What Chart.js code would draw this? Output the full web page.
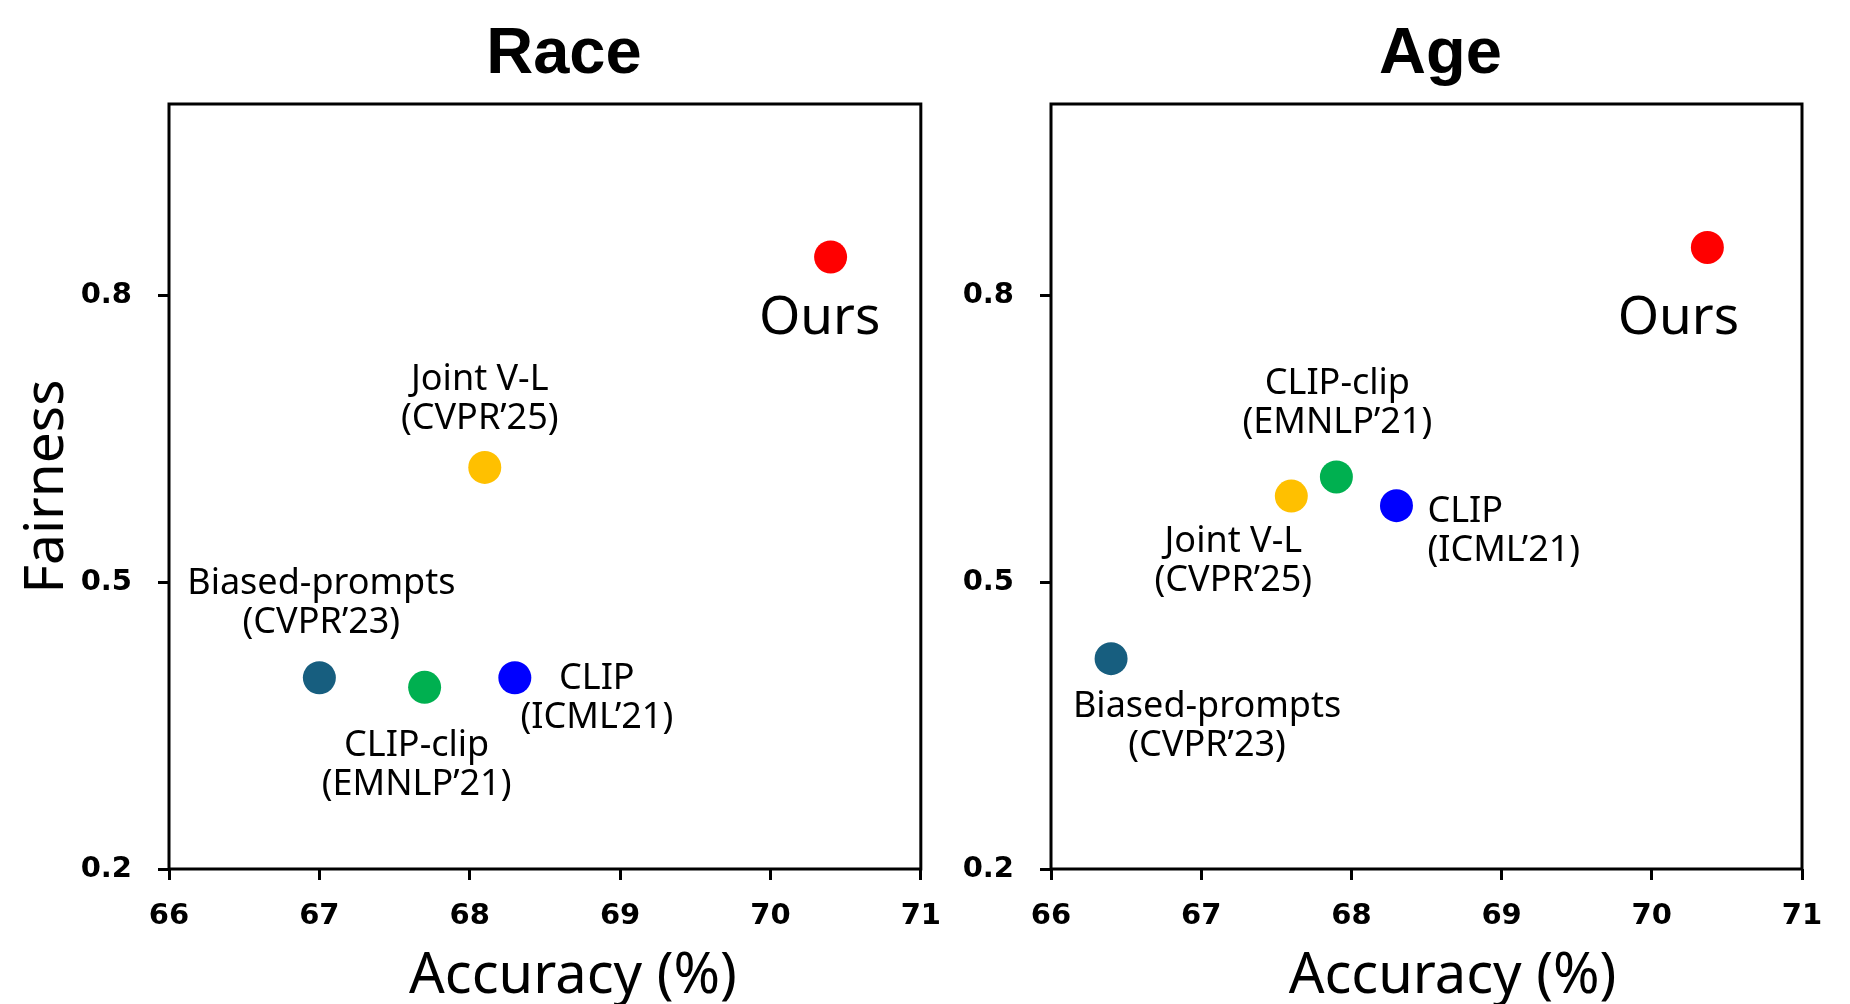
<!DOCTYPE html>
<html>
<head>
<meta charset="utf-8">
<script src="https://cdn.jsdelivr.net/npm/chart.js@4.4.1/dist/chart.umd.min.js"></script>
<style>
  html, body { margin: 0; padding: 0; background: #fff; }
  #wrap { position: relative; width: 1850px; height: 1004px; }
  .panel { position: absolute; top: 0; height: 1004px; }
  #p1 { left: 0; width: 960px; }
  #p2 { left: 930px; width: 920px; z-index: 2; }
</style>
</head>
<body>
<div id="wrap">
  <div class="panel" id="p1"><canvas id="raceChart"></canvas></div>
  <div class="panel" id="p2"><canvas id="ageChart"></canvas></div>
</div>
<script>
// 資料
const methods = ['Ours', 'Joint V-L', 'Biased-prompts', 'CLIP-clip', 'CLIP'];
const venues = ['', '(CVPR’25)', '(CVPR’23)', '(EMNLP’21)', '(ICML’21)'];
const pointColors = ['#ff0000', '#ffc000', '#175e7f', '#00b050', '#0000ff'];

const raceAccuracy = [70.4, 68.1, 67.0, 67.7, 68.3];
const raceFairness = [0.84, 0.62, 0.40, 0.39, 0.40];

const ageAccuracy = [70.37, 67.6, 66.4, 67.9, 68.3];
const ageFairness = [0.85, 0.59, 0.42, 0.61, 0.58];

const xTicks = [66, 67, 68, 69, 70, 71];
const yTicks = [0.2, 0.5, 0.8];

// 標籤位置 (相對於點的像素偏移)
const racePlace = [
  { dx: -11, dy: 62, align: 'center', big: true },
  { dx: -5, dy: -88, align: 'center' },
  { dx: 2, dy: -94, align: 'center' },
  { dx: -8, dy: 58, align: 'center' },
  { dx: 82, dy: 1, align: 'center' }
];
const agePlace = [
  { dx: -29, dy: 71, align: 'center', big: true },
  { dx: -58, dy: 46, align: 'center' },
  { dx: 96, dy: 48, align: 'center' },
  { dx: 1, dy: -93, align: 'center' },
  { dx: 31, dy: 6, align: 'left' }
];

var tickFont = { family: 'DejaVu Sans', weight: 'bold', size: 29 };

// 外框、標題、點標籤
var panelPlugin = {
  id: 'panelText',
  beforeDatasetsDraw: function (chart) {
    var a = chart.chartArea, ctx = chart.ctx;
    ctx.save();
    ctx.strokeStyle = '#000';
    ctx.lineWidth = 3;
    ctx.strokeRect(a.left, a.top, a.right - a.left, a.bottom - a.top);
    ctx.restore();
  },
  afterDatasetsDraw: function (chart, args, opts) {
    var a = chart.chartArea, ctx = chart.ctx;
    var cx = (a.left + a.right) / 2;
    ctx.save();
    ctx.fillStyle = '#000';
    ctx.textAlign = 'center';
    ctx.textBaseline = 'alphabetic';
    ctx.font = 'bold 65px "Liberation Sans"';
    ctx.fillText(opts.title, cx + opts.titleDx, 73);
    ctx.font = '56px "Noto Sans"';
    ctx.fillText('Accuracy (%)', cx + opts.xTitleDx, 993);

    ctx.textBaseline = 'middle';
    var meta = chart.getDatasetMeta(0);
    meta.data.forEach(function (pt, i) {
      var p = opts.place[i];
      ctx.textAlign = p.align;
      if (p.big) {
        ctx.font = '53px "Noto Sans"';
        ctx.fillText(methods[i], pt.x + p.dx, pt.y + p.dy);
      } else {
        ctx.font = '36px "Noto Sans"';
        ctx.fillText(methods[i], pt.x + p.dx, pt.y + p.dy);
        ctx.fillText(venues[i], pt.x + p.dx, pt.y + p.dy + 39);
      }
    });
    ctx.restore();
  }
};

function makeChart(id, acc, fair, opts) {
  return new Chart(document.getElementById(id), {
    type: 'scatter',
    data: {
      datasets: [{
        data: acc.map(function (v, i) { return { x: v, y: fair[i] }; }),
        backgroundColor: pointColors,
        borderWidth: 0,
        pointRadius: 16.5,
        pointHoverRadius: 16.5
      }]
    },
    plugins: [panelPlugin],
    options: {
      responsive: true,
      maintainAspectRatio: false,
      devicePixelRatio: 1,
      animation: false,
      events: [],
      layout: { padding: { left: 0, top: 104, right: opts.padRight, bottom: 0 } },
      plugins: {
        legend: { display: false },
        tooltip: { enabled: false },
        panelText: { title: opts.title, titleDx: opts.titleDx, xTitleDx: opts.xTitleDx, place: opts.place }
      },
      scales: {
        x: {
          type: 'linear',
          min: 66,
          max: 71,
          afterBuildTicks: function (s) { s.ticks = xTicks.map(function (v) { return { value: v }; }); },
          afterFit: function (s) { s.height = 135; },
          border: { display: false },
          grid: { drawOnChartArea: false, tickLength: 11, tickWidth: 3, tickColor: '#000' },
          ticks: { font: tickFont, color: '#000', padding: 19, maxRotation: 0 }
        },
        y: {
          type: 'linear',
          min: 0.2,
          max: 1.0,
          afterBuildTicks: function (s) { s.ticks = yTicks.map(function (v) { return { value: v }; }); },
          afterFit: function (s) { s.width = opts.yWidth; },
          border: { display: false },
          grid: { drawOnChartArea: false, tickLength: 11, tickWidth: 3, tickColor: '#000' },
          ticks: { font: tickFont, color: '#000', padding: 26, callback: function (v) { return v.toFixed(1); } },
          title: {
            display: opts.yTitle,
            text: 'Fairness',
            color: '#000',
            font: { family: 'Noto Sans', size: 55, lineHeight: 1 },
            padding: { top: 20, bottom: 0 }
          }
        }
      }
    }
  });
}

var raceChart = makeChart('raceChart', raceAccuracy, raceFairness, {
  title: 'Race', titleDx: 19, xTitleDx: 28, place: racePlace, padRight: 26, yWidth: 169, yTitle: true
});
var ageChart = makeChart('ageChart', ageAccuracy, ageFairness, {
  title: 'Age', titleDx: 14, xTitleDx: 26, place: agePlace, padRight: 48, yWidth: 121, yTitle: false
});
</script>
</body>
</html>
